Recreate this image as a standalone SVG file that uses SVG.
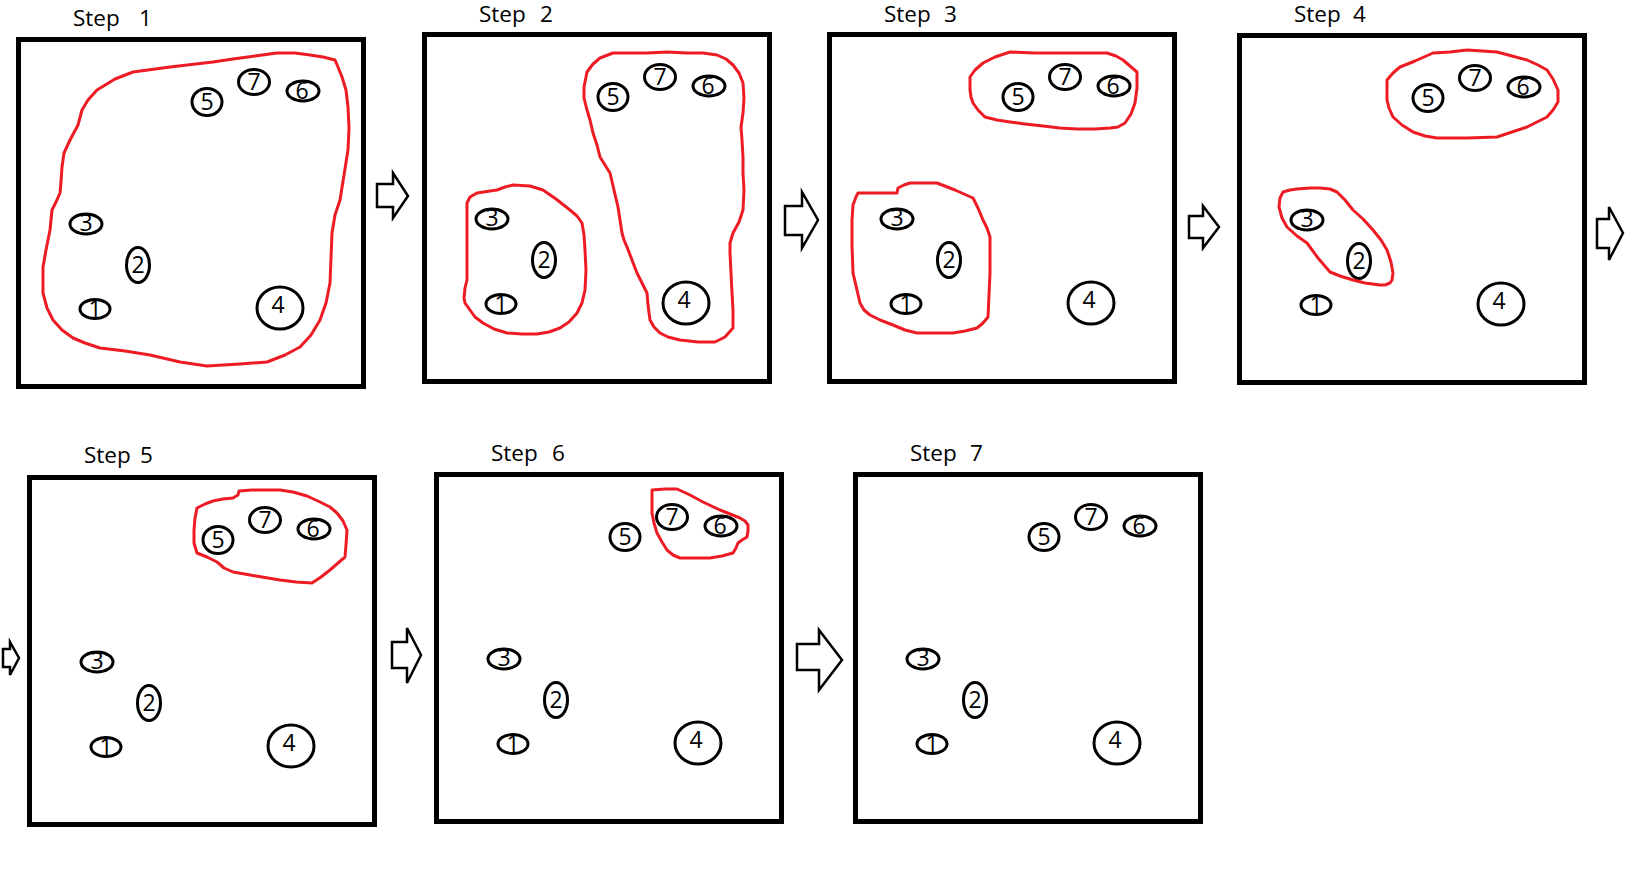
<svg xmlns="http://www.w3.org/2000/svg" width="1636" height="872" viewBox="0 0 1636 872">
<defs>
<style>
.frame{fill:none;stroke:#000;stroke-width:5}
.title{font-family:"Open Sans","Noto Sans","Liberation Sans",sans-serif;font-size:22.5px;fill:#000}
.node ellipse{fill:none;stroke:#000;stroke-width:3}
.node text{font-family:"Open Sans","Noto Sans","Liberation Sans",sans-serif;font-size:23px;fill:#000;text-anchor:middle}
.blob{fill:none;stroke:#ED1C24;stroke-width:3;stroke-linejoin:round}
.arrow{fill:#fff;stroke:#000;stroke-width:2.5;stroke-linejoin:miter}
</style>
</defs>
<rect width="1636" height="872" fill="#fff"/>

<!-- Step 1 -->
<g id="step1">
<rect class="frame" x="18.5" y="39.5" width="345" height="347"/>
<text class="title" x="73" y="25.5">Step <tspan x="139">1</tspan></text>
<g id="s1n7" class="node"><ellipse cx="254" cy="82" rx="15.5" ry="12.5"/><text x="254" y="90">7</text></g>
<g id="s1n6" class="node"><ellipse cx="303" cy="91" rx="16" ry="10"/><text x="302" y="99">6</text></g>
<g id="s1n5" class="node"><ellipse cx="207" cy="102" rx="15" ry="13.5"/><text x="207" y="110">5</text></g>
<g id="s1n3" class="node"><ellipse cx="86" cy="224" rx="16" ry="10"/><text x="86" y="231">3</text></g>
<g id="s1n2" class="node"><ellipse cx="138" cy="265" rx="11.5" ry="17.5"/><text x="138" y="273">2</text></g>
<g id="s1n1" class="node"><ellipse cx="95" cy="309" rx="15" ry="9.5"/><text x="95" y="317">1</text></g>
<g id="s1n4" class="node"><ellipse cx="280" cy="308" rx="23" ry="21"/><text x="278" y="313">4</text></g>
</g>

<!-- Step 2 -->
<g id="step2" transform="translate(406,-5)">
<rect class="frame" x="18.5" y="39.5" width="345" height="347"/>
<text class="title" x="73" y="26.5">Step <tspan x="134">2</tspan></text>
<g id="s2n7" class="node"><ellipse cx="254" cy="82" rx="15.5" ry="12.5"/><text x="254" y="90">7</text></g>
<g id="s2n6" class="node"><ellipse cx="303" cy="91" rx="16" ry="10"/><text x="302" y="99">6</text></g>
<g id="s2n5" class="node"><ellipse cx="207" cy="102" rx="15" ry="13.5"/><text x="207" y="110">5</text></g>
<g id="s2n3" class="node"><ellipse cx="86" cy="224" rx="16" ry="10"/><text x="86" y="231">3</text></g>
<g id="s2n2" class="node"><ellipse cx="138" cy="265" rx="11.5" ry="17.5"/><text x="138" y="273">2</text></g>
<g id="s2n1" class="node"><ellipse cx="95" cy="309" rx="15" ry="9.5"/><text x="95" y="317">1</text></g>
<g id="s2n4" class="node"><ellipse cx="280" cy="308" rx="23" ry="21"/><text x="278" y="313">4</text></g>
</g>

<!-- Step 3 -->
<g id="step3" transform="translate(811,-5)">
<rect class="frame" x="18.5" y="39.5" width="345" height="347"/>
<text class="title" x="73" y="26.5">Step <tspan x="133">3</tspan></text>
<g id="s3n7" class="node"><ellipse cx="254" cy="82" rx="15.5" ry="12.5"/><text x="254" y="90">7</text></g>
<g id="s3n6" class="node"><ellipse cx="303" cy="91" rx="16" ry="10"/><text x="302" y="99">6</text></g>
<g id="s3n5" class="node"><ellipse cx="207" cy="102" rx="15" ry="13.5"/><text x="207" y="110">5</text></g>
<g id="s3n3" class="node"><ellipse cx="86" cy="224" rx="16" ry="10"/><text x="86" y="231">3</text></g>
<g id="s3n2" class="node"><ellipse cx="138" cy="265" rx="11.5" ry="17.5"/><text x="138" y="273">2</text></g>
<g id="s3n1" class="node"><ellipse cx="95" cy="309" rx="15" ry="9.5"/><text x="95" y="317">1</text></g>
<g id="s3n4" class="node"><ellipse cx="280" cy="308" rx="23" ry="21"/><text x="278" y="313">4</text></g>
</g>

<!-- Step 4 -->
<g id="step4" transform="translate(1221,-4)">
<rect class="frame" x="18.5" y="39.5" width="345" height="347"/>
<text class="title" x="73" y="25.5">Step <tspan x="132">4</tspan></text>
<g id="s4n7" class="node"><ellipse cx="254" cy="82" rx="15.5" ry="12.5"/><text x="254" y="90">7</text></g>
<g id="s4n6" class="node"><ellipse cx="303" cy="91" rx="16" ry="10"/><text x="302" y="99">6</text></g>
<g id="s4n5" class="node"><ellipse cx="207" cy="102" rx="15" ry="13.5"/><text x="207" y="110">5</text></g>
<g id="s4n3" class="node"><ellipse cx="86" cy="224" rx="16" ry="10"/><text x="86" y="231">3</text></g>
<g id="s4n2" class="node"><ellipse cx="138" cy="265" rx="11.5" ry="17.5"/><text x="138" y="273">2</text></g>
<g id="s4n1" class="node"><ellipse cx="95" cy="309" rx="15" ry="9.5"/><text x="95" y="317">1</text></g>
<g id="s4n4" class="node"><ellipse cx="280" cy="308" rx="23" ry="21"/><text x="278" y="313">4</text></g>
</g>

<!-- Step 5 -->
<g id="step5" transform="translate(11,438)">
<rect class="frame" x="18.5" y="39.5" width="345" height="347"/>
<text class="title" x="73" y="25">Step <tspan x="129">5</tspan></text>
<g id="s5n7" class="node"><ellipse cx="254" cy="82" rx="15.5" ry="12.5"/><text x="254" y="90">7</text></g>
<g id="s5n6" class="node"><ellipse cx="303" cy="91" rx="16" ry="10"/><text x="302" y="99">6</text></g>
<g id="s5n5" class="node"><ellipse cx="207" cy="102" rx="15" ry="13.5"/><text x="207" y="110">5</text></g>
<g id="s5n3" class="node"><ellipse cx="86" cy="224" rx="16" ry="10"/><text x="86" y="231">3</text></g>
<g id="s5n2" class="node"><ellipse cx="138" cy="265" rx="11.5" ry="17.5"/><text x="138" y="273">2</text></g>
<g id="s5n1" class="node"><ellipse cx="95" cy="309" rx="15" ry="9.5"/><text x="95" y="317">1</text></g>
<g id="s5n4" class="node"><ellipse cx="280" cy="308" rx="23" ry="21"/><text x="278" y="313">4</text></g>
</g>

<!-- Step 6 -->
<g id="step6" transform="translate(418,435)">
<rect class="frame" x="18.5" y="39.5" width="345" height="347"/>
<text class="title" x="73" y="26">Step <tspan x="134">6</tspan></text>
<g id="s6n7" class="node"><ellipse cx="254" cy="82" rx="15.5" ry="12.5"/><text x="254" y="90">7</text></g>
<g id="s6n6" class="node"><ellipse cx="303" cy="91" rx="16" ry="10"/><text x="302" y="99">6</text></g>
<g id="s6n5" class="node"><ellipse cx="207" cy="102" rx="15" ry="13.5"/><text x="207" y="110">5</text></g>
<g id="s6n3" class="node"><ellipse cx="86" cy="224" rx="16" ry="10"/><text x="86" y="231">3</text></g>
<g id="s6n2" class="node"><ellipse cx="138" cy="265" rx="11.5" ry="17.5"/><text x="138" y="273">2</text></g>
<g id="s6n1" class="node"><ellipse cx="95" cy="309" rx="15" ry="9.5"/><text x="95" y="317">1</text></g>
<g id="s6n4" class="node"><ellipse cx="280" cy="308" rx="23" ry="21"/><text x="278" y="313">4</text></g>
</g>

<!-- Step 7 -->
<g id="step7" transform="translate(837,435)">
<rect class="frame" x="18.5" y="39.5" width="345" height="347"/>
<text class="title" x="73" y="26">Step <tspan x="133">7</tspan></text>
<g id="s7n7" class="node"><ellipse cx="254" cy="82" rx="15.5" ry="12.5"/><text x="254" y="90">7</text></g>
<g id="s7n6" class="node"><ellipse cx="303" cy="91" rx="16" ry="10"/><text x="302" y="99">6</text></g>
<g id="s7n5" class="node"><ellipse cx="207" cy="102" rx="15" ry="13.5"/><text x="207" y="110">5</text></g>
<g id="s7n3" class="node"><ellipse cx="86" cy="224" rx="16" ry="10"/><text x="86" y="231">3</text></g>
<g id="s7n2" class="node"><ellipse cx="138" cy="265" rx="11.5" ry="17.5"/><text x="138" y="273">2</text></g>
<g id="s7n1" class="node"><ellipse cx="95" cy="309" rx="15" ry="9.5"/><text x="95" y="317">1</text></g>
<g id="s7n4" class="node"><ellipse cx="280" cy="308" rx="23" ry="21"/><text x="278" y="313">4</text></g>
</g>

<!-- Red clusters -->
<g id="clusters">
<path class="blob" d="M213,62 L170,67 L133,72 L115,79 L97,90 L88,100 L82,110 L78,125 L70,140 L64,153 L62,167 L61,182 L60,193 L56,202 L52,210 L50,230 L46,250 L43,267 L43,293 L47,308 L53,320 L62,330 L73,338 L85,343 L100,348 L125,351 L150,355 L180,362 L207,366 L240,364 L267,362 L285,355 L300,347 L311,335 L320,320 L326,303 L330,283 L331,258 L332,233 L335,215 L340,200 L344,175 L348,150 L349,128 L348,107 L346,90 L342,77 L338,67 L335,60 L323,57 L310,55 L295,53 L277,53 L255,56 L233,59 Z"/>
<path class="blob" d="M467,203 L470,197 L477,193 L490,191 L497,190 L505,187 L513,185 L530,186 L543,190 L556,199 L570,210 L577,216 L582,223 L584,235 L585,250 L586,270 L585,290 L582,303 L577,313 L569,322 L560,328 L549,332 L537,334 L522,334 L507,333 L494,329 L483,323 L475,317 L470,310 L465,303 L464,298 L465,288 L467,280 L467,255 L467,233 L467,215 Z"/>
<path class="blob" d="M587,72 L593,64 L600,58 L613,53 L630,53 L647,53 L667,52 L687,53 L703,53 L717,55 L726,59 L733,65 L739,73 L743,83 L744,98 L743,113 L741,127 L742,140 L743,157 L743,173 L744,190 L743,210 L739,222 L733,233 L730,243 L730,253 L731,273 L732,293 L733,310 L733,328 L725,337 L715,342 L698,342 L680,340 L668,337 L660,333 L654,327 L650,320 L648,305 L647,293 L642,283 L637,273 L632,260 L627,247 L624,240 L622,233 L620,220 L618,207 L614,190 L610,173 L605,165 L600,157 L597,145 L593,133 L590,120 L587,110 L584,98 L584,87 Z"/>
<path class="blob" d="M970,77 L975,70 L983,63 L995,57 L1010,52 L1035,53 L1063,53 L1085,53 L1107,53 L1116,56 L1123,60 L1130,66 L1137,72 L1137,88 L1135,103 L1131,114 L1125,123 L1118,127 L1110,128 L1095,129 L1077,129 L1060,128 L1043,126 L1025,124 L1010,122 L997,120 L985,117 L978,110 L973,103 L971,97 L970,90 Z"/>
<path class="blob" d="M852,220 L853,205 L856,197 L858,193 L875,193 L897,193 L898,188 L904,185 L910,183 L925,183 L937,183 L955,190 L973,198 L978,208 L983,220 L987,228 L990,237 L990,255 L990,273 L989,295 L988,317 L983,323 L977,328 L965,331 L953,333 L935,333 L917,333 L905,330 L893,325 L880,320 L870,315 L864,310 L860,303 L857,290 L853,273 L852,245 Z"/>
<path class="blob" d="M1387,80 L1393,73 L1400,67 L1415,61 L1433,53 L1450,52 L1467,50 L1482,51 L1497,52 L1512,56 L1527,60 L1538,65 L1547,70 L1553,79 L1558,90 L1558,102 L1553,110 L1547,117 L1537,122 L1527,127 L1512,132 L1497,137 L1467,138 L1437,138 L1425,136 L1413,132 L1402,125 L1393,117 L1389,108 L1387,100 L1387,90 Z"/>
<path class="blob" d="M1283,192 L1290,190 L1297,189 L1310,188 L1320,188 L1330,189 L1337,192 L1345,200 L1353,210 L1363,219 L1373,230 L1381,240 L1387,250 L1391,262 L1393,273 L1392,280 L1390,283 L1385,285 L1380,285 L1365,283 L1353,280 L1340,276 L1330,272 L1318,258 L1307,243 L1297,236 L1287,227 L1282,218 L1279,207 L1280,198 Z"/>
<path class="blob" d="M197,508 L205,504 L213,501 L223,499 L233,498 L238,495 L239,491 L252,490 L267,490 L280,490 L293,492 L307,496 L320,502 L330,507 L337,513 L343,521 L347,530 L346,545 L345,557 L338,563 L330,570 L321,577 L312,583 L296,582 L280,580 L256,576 L233,572 L224,568 L217,562 L207,557 L197,553 L194,543 L194,530 L195,518 Z"/>
<path class="blob" d="M652,490 L665,489 L677,489 L690,495 L703,502 L720,510 L740,518 L745,521 L748,525 L748,531 L747,537 L742,540 L738,543 L736,548 L733,553 L722,556 L710,558 L695,558 L680,558 L673,555 L667,550 L662,542 L657,533 L654,523 L652,513 L652,500 Z"/>
</g>

<!-- Connectors -->
<g id="connectors">
<path class="arrow" d="M377,184 H393 V173 L408,196 L393,218 V207 H377 Z"/>
<path class="arrow" d="M785,206 H802 V192 L818,220 L802,248 V235 H785 Z"/>
<path class="arrow" d="M1189,216 H1203 V206 L1219,227 L1203,248 V238 H1189 Z"/>
<path class="arrow" d="M1597,219 H1609 V207 L1623,233 L1609,260 V248 H1597 Z"/>
<path class="arrow" d="M3,649 H10 V642 L19,658 L10,675 V667 H3 Z"/>
<path class="arrow" d="M392,642 H407 V628 L421,655 L407,683 V668 H392 Z"/>
<path class="arrow" d="M797,644 H819 V630 L842,660 L819,690 V670 H797 Z"/>
</g>
</svg>
